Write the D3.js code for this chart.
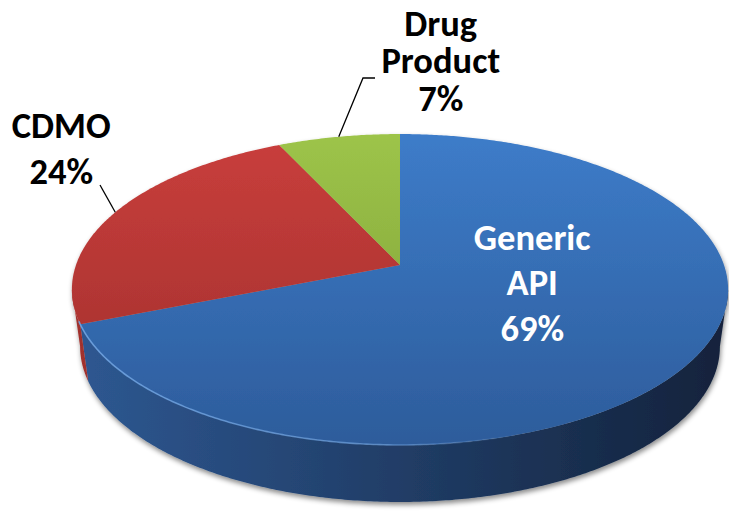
<!DOCTYPE html>
<html>
<head>
<meta charset="utf-8">
<script src="https://cdn.jsdelivr.net/npm/d3@7"></script>
<style>
  html, body { margin: 0; padding: 0; background: #fff; }
  svg { display: block; }
  text { font-family: Carlito, "Liberation Sans Narrow", "Arial Narrow", sans-serif; font-weight: bold; }
</style>
</head>
<body>
<svg id="chart" width="729" height="518"></svg>
<script>
// Revenue split by business segment
const categories = ["Generic API", "CDMO", "Drug Product"];
const values = [69, 24, 7];
const nameLines = [["Generic", "API"], ["CDMO"], ["Drug", "Product"]];

// Top-face colours (light -> dark) and wall colours per slice
const topColors = [["#3d7cc9", "#2d5c9b"], ["#c93e3c", "#9e2f2c"], ["#9dc449", "#7a9a36"]];
const wallColors = [["#2e5892", "#13223b"], ["#a1302d", "#7d2321"], ["#7a9a36", "#5e7a28"]];

const svg = d3.select("#chart");
const defs = svg.append("defs");

// Perspective disc: screen = centre + (a*u, -b*v) / (1 + k*v)
const cx = 400, cy = 265, a = 324, b = 151.6, k = 0.1576;
const depth = 57, bottomScale = 0.975;

function project(theta, r = 1) {
  const u = r * Math.sin(theta), v = r * Math.cos(theta);
  const w = 1 + k * v;
  return [cx + a * u / w, cy - b * v / w];
}
function projectBottom(theta) {
  const [x, y] = project(theta);
  return [cx + (x - cx) * bottomScale, y + depth];
}
function sample(t0, t1, fn) {
  const n = Math.max(2, Math.ceil(Math.abs(t1 - t0) / (Math.PI / 360)));
  return d3.range(n + 1).map(i => fn(t0 + (t1 - t0) * i / n));
}

const arcs = d3.pie().sort(null).value(d => d)(values);

// gradients
topColors.forEach((c, i) => {
  const g = defs.append("linearGradient").attr("id", "top" + i)
    .attr("gradientUnits", "userSpaceOnUse")
    .attr("x1", 0).attr("y1", 134).attr("x2", 0).attr("y2", 445);
  g.append("stop").attr("offset", 0).attr("stop-color", c[0]);
  g.append("stop").attr("offset", 1).attr("stop-color", c[1]);
});
wallColors.forEach((c, i) => {
  const g = defs.append("linearGradient").attr("id", "wall" + i)
    .attr("gradientUnits", "userSpaceOnUse")
    .attr("x1", 70).attr("y1", 0).attr("x2", 730).attr("y2", 0);
  g.append("stop").attr("offset", 0).attr("stop-color", c[0]);
  g.append("stop").attr("offset", 1).attr("stop-color", c[1]);
});
const hl = defs.append("linearGradient").attr("id", "rim")
  .attr("gradientUnits", "userSpaceOnUse")
  .attr("x1", 80).attr("y1", 0).attr("x2", 520).attr("y2", 0);
hl.append("stop").attr("offset", 0).attr("stop-color", "#6ea2e0").attr("stop-opacity", 0.9);
hl.append("stop").attr("offset", 0.7).attr("stop-color", "#6ea2e0").attr("stop-opacity", 0.6);
hl.append("stop").attr("offset", 1).attr("stop-color", "#6ea2e0").attr("stop-opacity", 0);

const shadow = defs.append("filter").attr("id", "shadow")
  .attr("x", "-10%").attr("y", "-10%").attr("width", "120%").attr("height", "125%");
shadow.append("feDropShadow").attr("dx", 1).attr("dy", 3)
  .attr("stdDeviation", 2.5).attr("flood-color", "#000").attr("flood-opacity", 0.45);

const line = d3.line();
const pie = svg.append("g").attr("filter", "url(#shadow)");

// visible outer wall: front half between the two silhouette tangents
const tR = Math.acos(-k), tL = 2 * Math.PI - Math.acos(-k);
arcs.forEach((d, i) => {
  const s = Math.max(d.startAngle, tR), e = Math.min(d.endAngle, tL);
  if (e <= s) return;
  const pts = sample(s, e, project).concat(sample(e, s, projectBottom));
  pie.append("path").attr("d", line(pts) + "Z").attr("fill", `url(#wall${i})`);
});

// top faces
arcs.forEach((d, i) => {
  const pts = [[cx, cy]].concat(sample(d.startAngle, d.endAngle, project));
  pie.append("path").attr("d", line(pts) + "Z").attr("fill", `url(#top${i})`);
});

// soft bevel highlight along the front rim
svg.append("path")
  .attr("d", line(sample(tL - 0.2, Math.PI * 0.85, project)))
  .attr("fill", "none").attr("stroke", "url(#rim)").attr("stroke-width", 1.6);

// labels
const fontSize = 36.5;
const labelSpec = [
  { r: 0.5, dx: -8, dy: -60, pitch: 45.5, fill: "#fff" },
  { r: 1, dx: -54, dy: -74, pitch: 46, fill: "#000", leader: [[100, 185]] },
  { r: 1, dx: 102, dy: -101, pitch: 37.5, fill: "#000", leader: [[375, 78], [363, 78]] }
];
arcs.forEach((d, i) => {
  const mid = (d.startAngle + d.endAngle) / 2;
  const spec = labelSpec[i];
  const [px, py] = project(mid, spec.r);
  const lines = nameLines[i].concat([values[i] + "%"]);
  const t = svg.append("text").attr("text-anchor", "middle")
    .attr("font-size", fontSize).attr("fill", spec.fill);
  lines.forEach((s, j) => {
    t.append("tspan").attr("x", px + spec.dx).attr("y", py + spec.dy + j * spec.pitch).text(s);
  });
  if (spec.leader) {
    svg.append("path").attr("d", line(spec.leader.concat([project(mid)])))
      .attr("fill", "none").attr("stroke", "#000").attr("stroke-width", 1.3);
  }
});
</script>
</body>
</html>
